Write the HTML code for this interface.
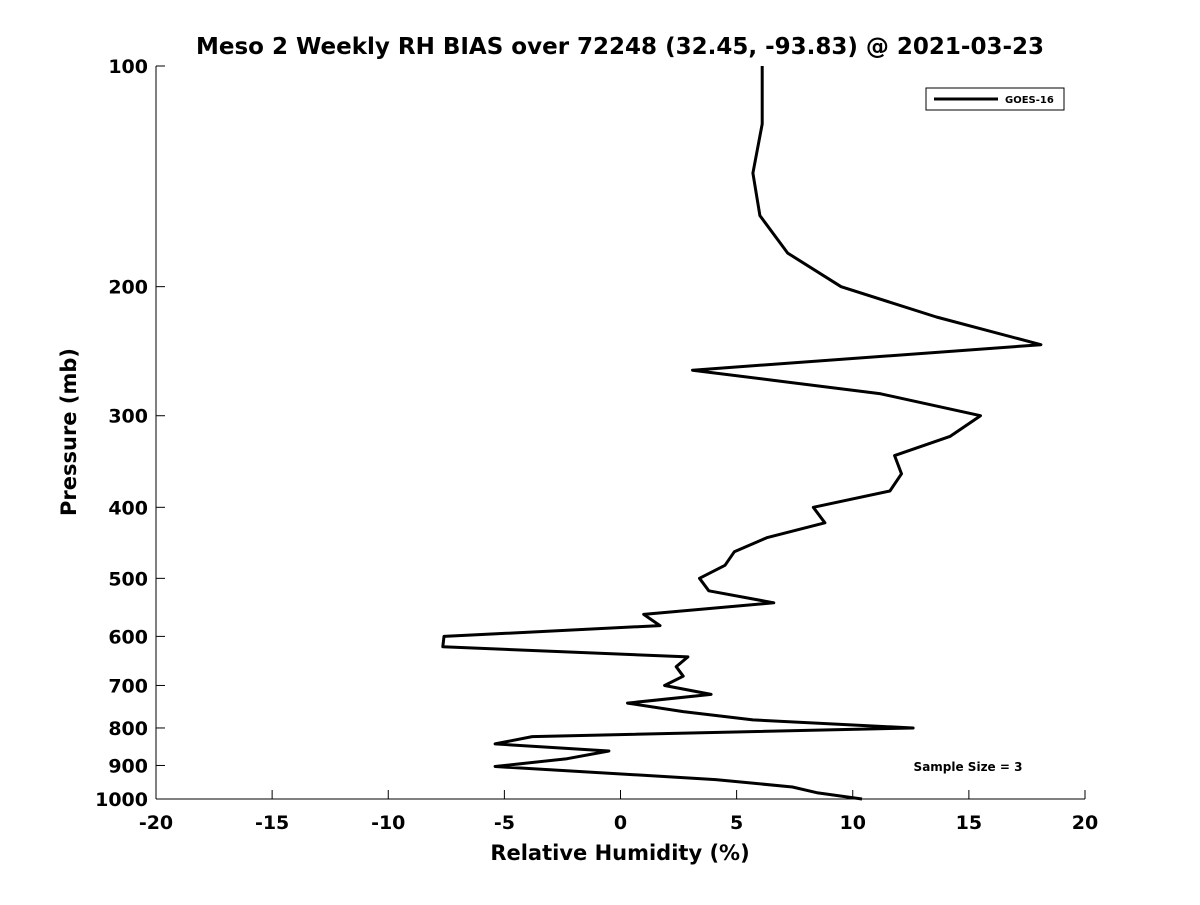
<!DOCTYPE html>
<html><head><meta charset="utf-8"><style>
body{margin:0;background:#fff;font-family:"Liberation Sans","DejaVu Sans",sans-serif}
</style></head><body>
<svg id="chart" width="1200" height="900" xmlns="http://www.w3.org/2000/svg" font-family="DejaVu Sans, Liberation Sans, sans-serif">
<rect width="1200" height="900" fill="#fff"/>
<text x="620" y="54" text-anchor="middle" font-size="23" font-weight="bold">Meso 2 Weekly RH BIAS over 72248 (32.45, -93.83) @ 2021-03-23</text>
<g id="axes"></g>
<polyline id="series" fill="none" stroke="#000" stroke-width="3" stroke-linejoin="round"/>
<g>
<rect x="926" y="88" width="138" height="22" fill="#fff" stroke="#000" stroke-width="1"/>
<line x1="934" y1="99" x2="998" y2="99" stroke="#000" stroke-width="3"/>
<text x="1005" y="103" font-size="10" font-weight="bold">GOES-16</text>
</g>
<text x="968" y="771" text-anchor="middle" font-size="12" font-weight="bold">Sample Size = 3</text>
<text x="620" y="860" text-anchor="middle" font-size="21" font-weight="bold">Relative Humidity (%)</text>
<text transform="translate(76,432) rotate(-90)" text-anchor="middle" font-size="21" font-weight="bold">Pressure (mb)</text>
</svg>
<script>
const pressures=[100,120,140,160,180,200,220,240,260,280,300,320,340,360,380,400,420,440,460,480,500,520,540,560,580,600,620,640,660,680,700,720,740,760,780,800,822,841,860,881,903,941,963,981,1000];
const rhBias=[6.1,6.1,5.7,6.0,7.2,9.5,13.6,18.1,3.1,11.2,15.5,14.2,11.8,12.1,11.6,8.3,8.8,6.3,4.9,4.5,3.4,3.8,6.6,1.0,1.7,-7.6,-7.65,2.9,2.4,2.7,1.9,3.9,0.3,2.7,5.7,12.6,-3.8,-5.4,-0.5,-2.3,-5.4,4.1,7.4,8.5,10.4];
const xTicks=[-20,-15,-10,-5,0,5,10,15,20];
const yTicks=[100,200,300,400,500,600,700,800,900,1000];
const X0=156,X1=1085,Y0=66,Y1=799;
const xs=v=>X0+(v+20)/40*(X1-X0);
const ys=p=>Y0+(Math.log10(p)-2)*(Y1-Y0);
const NS="http://www.w3.org/2000/svg";
const ax=document.getElementById('axes');
function mk(t,a){const e=document.createElementNS(NS,t);for(const k in a)e.setAttribute(k,a[k]);ax.appendChild(e);return e;}
let l=mk('line',{x1:X0,y1:Y0,x2:X0,y2:Y1,stroke:'#000','stroke-width':1});


l=mk('line',{x1:X0,y1:Y1,x2:X1,y2:Y1,stroke:'#000','stroke-width':1});


xTicks.forEach(v=>{const x=xs(v);
 mk('line',{x1:x,y1:Y1,x2:x,y2:Y1-9,stroke:'#000'});
 const t=mk('text',{x:x,y:Y1+30,'text-anchor':'middle','font-size':19,'font-weight':'bold'});
 t.textContent=v;
 
 });
yTicks.forEach(p=>{const y=ys(p);
 mk('line',{x1:X0,y1:y,x2:X0+9,y2:y,stroke:'#000'});
 const t=mk('text',{x:X0-8,y:y+7,'text-anchor':'end','font-size':19,'font-weight':'bold'});
 t.textContent=p;
 
 });
document.getElementById('series').setAttribute('points',pressures.map((p,i)=>xs(rhBias[i]).toFixed(1)+','+ys(p).toFixed(1)).join(' '));
</script>
</body></html>
